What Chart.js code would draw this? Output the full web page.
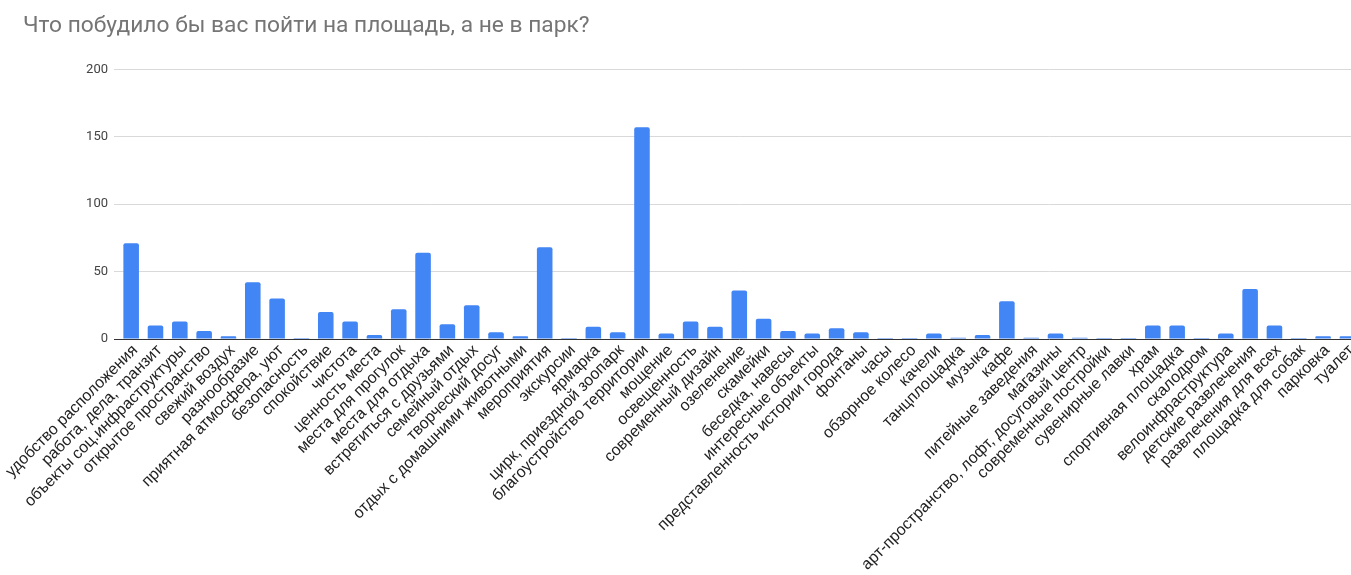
<!DOCTYPE html>
<html>
<head>
<meta charset="utf-8">
<script src="https://cdn.jsdelivr.net/npm/chart.js@4"></script>
<style>
  html, body { margin: 0; padding: 0; background: #fff; overflow: hidden; }
  #wrap { width: 1363px; height: 575px; }
</style>
</head>
<body>
<div id="wrap"><canvas id="c" width="1363" height="575"></canvas></div>
<script>
// Survey answers: reasons to visit the square rather than the park
const categories = [
  'удобство расположения', 'работа, дела, транзит', 'объекты соц.инфраструктуры',
  'открытое пространство', 'свежий воздух', 'разнообразие', 'приятная атмосфера, уют',
  'безопасность', 'спокойствие', 'чистота', 'ценность места', 'места для прогулок',
  'места для отдыха', 'встретиться с друзьями', 'семейный отдых', 'творческий досуг',
  'отдых с домашними животными', 'мероприятия', 'экскурсии', 'ярмарка',
  'цирк, приездной зоопарк', 'благоустройство территории', 'мощение', 'освещенность',
  'современный дизайн', 'озеленение', 'скамейки', 'беседка, навесы', 'интересные объекты',
  'представленность истории города', 'фонтаны', 'часы', 'обзорное колесо', 'качели',
  'танцплощадка', 'музыка', 'кафе', 'питейные заведения', 'магазины',
  'арт-пространство, лофт, досуговый центр', 'современные постройки', 'сувенирные лавки',
  'храм', 'спортивная площадка', 'скалодром', 'велоинфраструктура', 'детские развлечения',
  'развлечения для всех', 'площадка для собак', 'парковка', 'туалет'
];
const counts = [
  71, 10, 13, 6, 2, 42, 30,
  0, 20, 13, 3, 22,
  64, 11, 25, 5,
  2, 68, 0, 9,
  5, 157, 4, 13,
  9, 36, 15, 6, 4,
  8, 5, 0, 0, 4,
  1, 3, 28, 1, 4,
  1, 0, 0,
  10, 10, 0, 4, 37,
  10, 0, 2, 2
];
const yTicks = [0, 50, 100, 150, 200];
const chartTitle = 'Что побудило бы вас пойти на площадь, а не в парк?';

new Chart(document.getElementById('c'), {
  type: 'bar',
  data: {
    labels: categories,
    datasets: [{
      data: counts,
      backgroundColor: '#4285f4',
      borderRadius: { topLeft: 2, topRight: 2, bottomLeft: 0, bottomRight: 0 },
      borderSkipped: 'start',
      barPercentage: 0.64,
      categoryPercentage: 1,
      minBarLength: 1
    }]
  },
  options: {
    responsive: false,
    animation: false,
    layout: { padding: { left: 23, right: 0, top: 0, bottom: 0 } },
    plugins: {
      legend: { display: false },
      tooltip: { enabled: false },
      title: {
        display: true,
        text: chartTitle,
        align: 'start',
        color: '#757575',
        font: { family: 'Roboto', size: 22.75, weight: 'normal' },
        padding: { top: 13, bottom: 29 }
      }
    },
    scales: {
      x: {
        grid: { display: false, drawTicks: false },
        border: { display: false },
        ticks: {
          autoSkip: false,
          maxRotation: 45,
          minRotation: 45,
          padding: 2,
          labelOffset: 4,
          color: '#222',
          font: { family: 'Liberation Sans', size: 16 }
        },
        afterFit: (s) => { s.height = 236; }
      },
      y: {
        min: yTicks[0],
        max: yTicks[yTicks.length - 1],
        afterBuildTicks: (s) => { s.ticks = yTicks.map(v => ({ value: v })); },
        grid: {
          color: (ctx) => (ctx.tick && ctx.tick.value === 0 ? '#333' : '#d9d9d9'),
          tickColor: (ctx) => (ctx.tick && ctx.tick.value === 0 ? '#333' : '#d9d9d9'),
          tickLength: 5,
          lineWidth: 1
        },
        border: { display: false },
        ticks: {
          padding: 6,
          color: '#444',
          font: { family: 'Roboto', size: 13 }
        },
        afterFit: (s) => { s.width = 96; }
      }
    }
  }
});
</script>
</body>
</html>
